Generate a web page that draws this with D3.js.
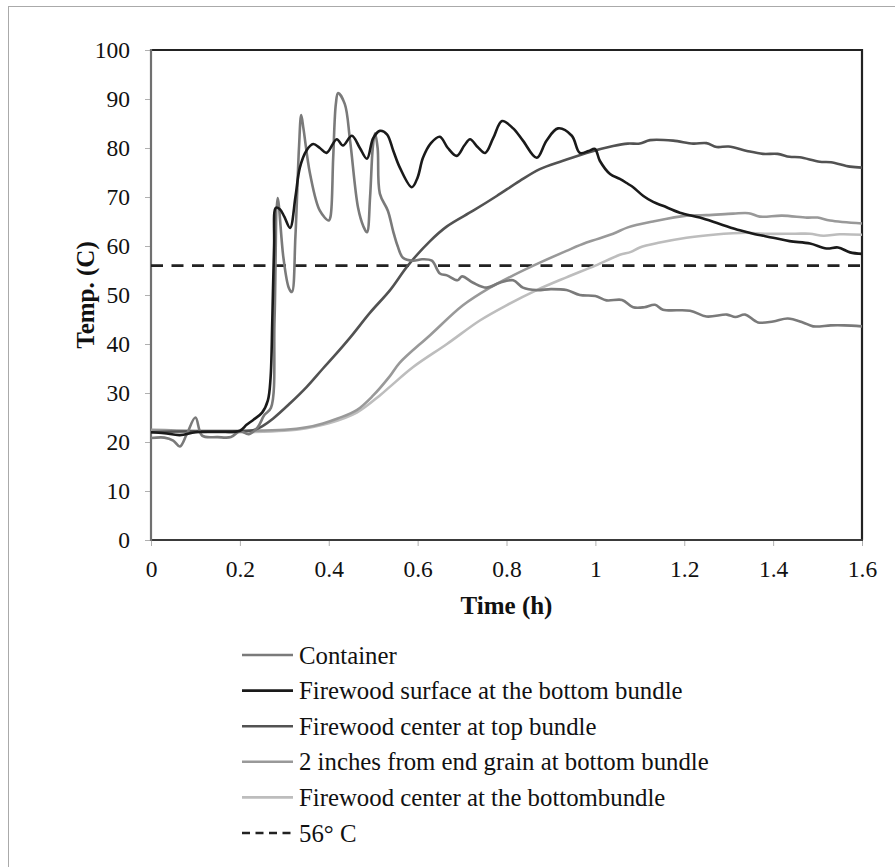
<!DOCTYPE html>
<html><head><meta charset="utf-8">
<script src="https://cdn.jsdelivr.net/npm/d3@7"></script>
<style>body{margin:0;background:#fff}svg{display:block}text{font-family:"Liberation Serif","Times New Roman",serif;fill:#111}</style>
</head><body><svg id="c" width="895" height="867"></svg>
<script>
const containerT = [0,0.03,0.05,0.065,0.08,0.1,0.115,0.15,0.18,0.2,0.22,0.24,0.255,0.27,0.278,0.285,0.298,0.31,0.317,0.325,0.333,0.338,0.343,0.358,0.38,0.4,0.404,0.41,0.416,0.421,0.436,0.448,0.466,0.478,0.486,0.493,0.499,0.504,0.51,0.515,0.533,0.545,0.555,0.567,0.59,0.61,0.632,0.65,0.666,0.69,0.7,0.725,0.755,0.785,0.815,0.837,0.868,0.9,0.935,0.965,1.0,1.025,1.06,1.085,1.11,1.134,1.152,1.213,1.25,1.296,1.315,1.337,1.366,1.4,1.433,1.467,1.49,1.53,1.56,1.6];
const containerV = [20.8,20.9,20.3,19.1,21.5,25,21.3,21,21,22.2,21.6,23,25.5,27,45,69.8,57.6,51.5,50.6,62,80,86.7,84,74.7,67.2,65.2,66,78,89,91.2,89,81.5,67.8,64,62.8,70,80,83,80,70.7,67.2,63,60,57.6,57,57.3,57,54.4,54,53,53.8,52.5,51.5,52.5,53,51.5,51,51.2,51,50,49.8,48.9,49,47.5,47.5,48,47,46.8,45.6,46,45.5,46,44.4,44.6,45.2,44.4,43.6,43.8,43.8,43.6];

const surfaceT = [0,0.03,0.065,0.1,0.15,0.2,0.215,0.23,0.25,0.263,0.269,0.273,0.277,0.281,0.29,0.3,0.313,0.325,0.335,0.35,0.365,0.38,0.395,0.418,0.432,0.452,0.47,0.486,0.5,0.515,0.531,0.545,0.56,0.587,0.6,0.612,0.63,0.65,0.668,0.688,0.705,0.718,0.735,0.752,0.77,0.79,0.815,0.837,0.868,0.89,0.916,0.947,0.965,0.985,0.999,1.01,1.033,1.055,1.073,1.085,1.108,1.13,1.152,1.19,1.235,1.28,1.325,1.355,1.4,1.437,1.483,1.52,1.546,1.573,1.6];
const surfaceV = [22,21.8,21.4,22,22.1,22.3,23.5,24.5,26,28.5,33,45,60,67.8,67.5,66,63.7,70,76,79.5,80.8,80,79,81.8,80.5,82.5,80,77.8,82,83.5,82.8,79.5,76,72,74,78,81,82.3,80,78.4,80.5,81.8,80.2,79,82,85.5,84,81.5,78,81.5,84,82.5,79,79.4,79.8,77.4,74.7,73.7,72.7,72,70.2,69,68.2,66.8,65.8,64.5,63.2,62.5,61.7,61,60.5,59.5,59.7,58.7,58.4];

const topCenterT = [0,0.1,0.2,0.23,0.25,0.275,0.313,0.35,0.387,0.41,0.448,0.493,0.538,0.578,0.628,0.666,0.725,0.778,0.83,0.875,0.927,0.98,1.04,1.073,1.1,1.123,1.175,1.22,1.25,1.273,1.3,1.341,1.377,1.41,1.437,1.46,1.505,1.53,1.573,1.6];
const topCenterV = [22,22.2,22.2,22.4,23.2,24.8,27.9,31.2,35,37.3,41.3,46.4,51,56,61,64,67.2,70.2,73.3,75.7,77.4,79,80.4,80.9,80.9,81.6,81.5,80.9,81,80.2,80.3,79.4,78.8,78.8,78.2,78.1,77.2,77.1,76.2,76];

const endGrainT = [0,0.1,0.2,0.3,0.35,0.387,0.42,0.463,0.5,0.538,0.56,0.628,0.702,0.763,0.815,0.875,0.935,0.98,1.04,1.073,1.13,1.205,1.25,1.31,1.345,1.37,1.42,1.476,1.5,1.528,1.6];
const endGrainV = [22.5,22.3,22.3,22.5,23,23.8,24.8,26.5,29.5,33.5,36.2,41.8,47.9,51.5,54,56.6,59,60.7,62.5,63.8,65,66.2,66.3,66.6,66.7,66,66.2,65.8,65.8,65.2,64.6];

const bottomCenterT = [0,0.1,0.2,0.3,0.35,0.4,0.463,0.515,0.538,0.59,0.666,0.74,0.8,0.868,0.935,1.0,1.055,1.08,1.1,1.145,1.205,1.265,1.34,1.38,1.45,1.483,1.513,1.55,1.6];
const bottomCenterV = [22.3,22,22,22.3,22.8,23.8,26,29.5,31.3,35.3,40,44.8,47.9,51,53.6,56,58.2,58.8,59.7,60.7,61.7,62.3,62.7,62.5,62.5,62.5,62.1,62.4,62.3];

const thresholdValue = 56;
const seriesNames = ["Container","Firewood surface at the bottom bundle","Firewood center at top bundle","2 inches from end grain at bottom bundle","Firewood center at the bottombundle"];
const seriesColors = ["#7a7a7a","#1a1a1a","#525252","#999999","#bdbdbd"];
const thresholdName = "56\u00B0 C";
const xTicks = [0,0.2,0.4,0.6,0.8,1,1.2,1.4,1.6];
const yTicks = [0,10,20,30,40,50,60,70,80,90,100];

const svg = d3.select("#c");
const L=151,R=862,T=50,B=540;
const x = d3.scaleLinear().domain([0,1.6]).range([L,R]);
const y = d3.scaleLinear().domain([0,100]).range([B,T]);

// outer frame
svg.append("rect").attr("x",8.5).attr("y",6.5).attr("width",900).attr("height",900).attr("fill","none").attr("stroke","#aaa").attr("stroke-width",1);

const series = [[containerT,containerV],[surfaceT,surfaceV],[topCenterT,topCenterV],[endGrainT,endGrainV],[bottomCenterT,bottomCenterV]];
const line = d3.line().x(d=>x(d[0])).y(d=>y(d[1])).curve(d3.curveCatmullRom.alpha(0.5));

// axes
const yAxis = svg.append("g").attr("transform",`translate(${L},0)`).call(d3.axisLeft(y).tickValues(yTicks).tickSize(6).tickPadding(15).tickFormat(d3.format("d")));
const xAxis = svg.append("g").attr("transform",`translate(0,${B})`).call(d3.axisBottom(x).tickValues(xTicks).tickSize(6).tickPadding(14).tickFormat(d=>String(d)));
[yAxis,xAxis].forEach(g=>{
  g.select(".domain").remove();
  g.selectAll(".tick line").attr("stroke","#b0b0b0").attr("stroke-width",1);
  g.selectAll(".tick text").style("font-family",'"Liberation Serif",serif').style("font-size","23.5px").attr("fill","#111");
});

// plot frame
svg.append("line").attr("x1",L).attr("x2",R).attr("y1",T).attr("y2",T).attr("stroke","#222").attr("stroke-width",2.2);
svg.append("line").attr("x1",R).attr("x2",R).attr("y1",T-1).attr("y2",B).attr("stroke","#222").attr("stroke-width",2.2);
svg.append("line").attr("x1",L).attr("x2",R+1).attr("y1",B).attr("y2",B).attr("stroke","#3a3a3a").attr("stroke-width",2.2);
svg.append("line").attr("x1",L).attr("x2",L).attr("y1",T-1).attr("y2",B+1).attr("stroke","#707070").attr("stroke-width",2.2);

// threshold
svg.append("line").attr("x1",x(0)).attr("x2",x(1.6)).attr("y1",y(thresholdValue)).attr("y2",y(thresholdValue))
  .attr("stroke","#222").attr("stroke-width",2.6).attr("stroke-dasharray","12,8.5");

// series (draw order)
const order=[4,3,2,0,1];
order.forEach(i=>{
  const [ts,vs]=series[i];
  svg.append("path").datum(ts.map((t,k)=>[t,vs[k]])).attr("d",line).attr("fill","none")
    .attr("stroke",seriesColors[i]).attr("stroke-width",2.6).attr("stroke-linejoin","round");
});

// labels
svg.append("text").attr("transform",`translate(85,${(T+B)/2}) rotate(-90)`).attr("text-anchor","middle").attr("dominant-baseline","central")
  .style("font-weight","bold").style("font-size","25px").text("Temp. (C)");
svg.append("text").attr("x",(L+R)/2).attr("y",605).attr("text-anchor","middle").attr("dominant-baseline","central")
  .style("font-weight","bold").style("font-size","25px").text("Time (h)");

// legend
const items = seriesNames.map((n,i)=>({n,c:seriesColors[i],dash:null})).concat([{n:thresholdName,c:"#222",dash:"8,5.5"}]);
const lg = svg.append("g");
items.forEach((it,i)=>{
  const yy = 655 + i*35.6;
  lg.append("line").attr("x1",242).attr("x2",293).attr("y1",yy).attr("y2",yy).attr("stroke",it.c).attr("stroke-width",2.6)
    .attr("stroke-dasharray",it.dash);
  lg.append("text").attr("x",299).attr("y",yy).attr("dominant-baseline","central").style("font-size","24.8px").text(it.n);
});
</script></body></html>
